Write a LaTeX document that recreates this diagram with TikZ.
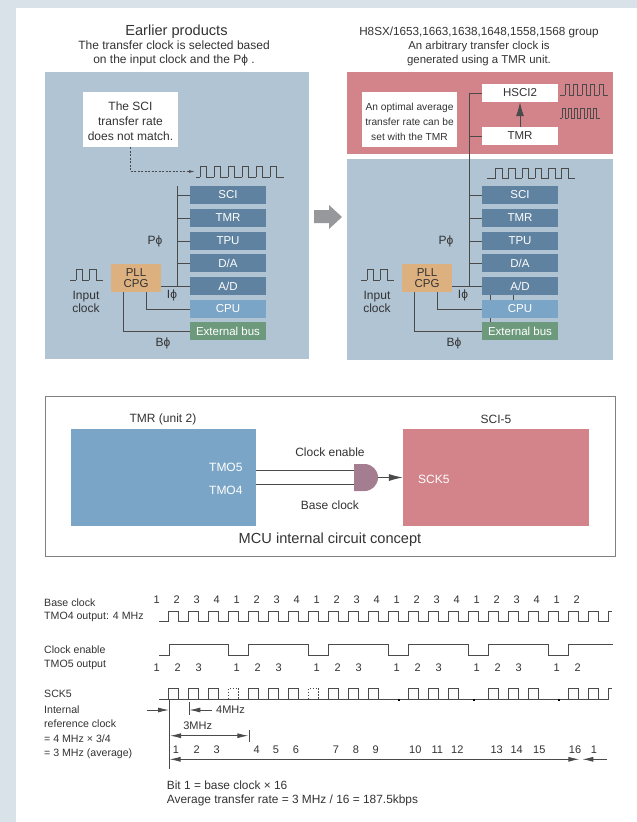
\documentclass[tikz,border=0pt]{standalone}
\usepackage{fontspec}
\setmainfont{Liberation Sans}
\usetikzlibrary{arrows.meta}
\definecolor{stripC}{HTML}{DAE2E9}
\definecolor{panelC}{HTML}{B0C4D4}
\definecolor{redC}{HTML}{D3848A}
\definecolor{periC}{HTML}{5E82A0}
\definecolor{cpuC}{HTML}{7AA5C6}
\definecolor{extC}{HTML}{6D9A7C}
\definecolor{pllC}{HTML}{DDB07F}
\definecolor{gateC}{HTML}{A47D90}
\definecolor{arrowC}{HTML}{96989C}
\definecolor{inkC}{HTML}{333333}
\definecolor{lineC}{HTML}{4A4A4A}
\definecolor{frameC}{HTML}{808080}
\tikzset{
  lab/.style={inner sep=0pt,text=inkC,font=\fontsize{12}{13.5}\selectfont,align=center},
  title/.style={lab,font=\fontsize{14.6}{16}\selectfont},
  subtitle/.style={lab,font=\fontsize{12}{13.5}\selectfont},
  num/.style={lab,font=\fontsize{11}{12}\selectfont},
  rowlab/.style={lab,anchor=west,font=\fontsize{10.6}{12}\selectfont},
  unit/.style={inner sep=0pt,minimum width=76pt,minimum height=18pt,text=white,font=\fontsize{11.5}{12}\selectfont},
  peri/.style={unit,fill=periC},
  whitebox/.style={unit,fill=white,text=inkC},
  note/.style={inner sep=0pt,fill=white,text=inkC,align=center,minimum height=55pt,minimum width=95pt,font=\fontsize{12}{15}\selectfont},
  bus/.style={draw=lineC,line width=0.9pt},
  wave/.style={draw=lineC,line width=1pt},
  head/.style={-{Latex[length=11pt,width=5pt]}},
  dhead/.style={{Latex[length=11pt,width=5pt]}-{Latex[length=11pt,width=5pt]}},
}
% start x, first rise, period, pulse width, pulses, low y, high y
\newcommand{\pulsetrain}[7]{
  \draw[wave] (#1,#6) -- (#2,#6);
  \foreach \k in {1,...,#5} {
    \pgfmathsetmacro\xa{#2+(\k-1)*#3}
    \pgfmathsetmacro\xb{\xa+#4}
    \pgfmathsetmacro\xc{\xa+#3}
    \draw[wave] (\xa,#6) -- (\xa,#7) -- (\xb,#7) -- (\xb,#6) -- (\xc,#6);
  }
}
\begin{document}
\begin{tikzpicture}[x=1pt,y=-1pt]
\useasboundingbox (0,0) rectangle (637,822);
\fill[stripC] (0,0) rectangle (637,822);
\fill[white] (16,8) rectangle (637,822);

% top panels
\node[title] (earlier) at (176.5,32) {Earlier products};
\node[subtitle] (earliersub) at (174,53.5) {The transfer clock is selected based\\on the input clock and the Pϕ .};
\node[title,font=\fontsize{11.7}{14}\selectfont] (group) at (479,32) {H8SX/1653,1663,1638,1648,1558,1568 group};
\node[subtitle,font=\fontsize{11.4}{13.5}\selectfont] (groupsub) at (479,53.5) {An arbitrary transfer clock is\\generated using a TMR unit.};
\fill[panelC] (45,72) rectangle (309,359);
\fill[redC] (347,72) rectangle (613,154);
\fill[panelC] (347,159) rectangle (613,360);
\fill[arrowC] (314,210) -- (329,210) -- (329,205) -- (342,217) -- (329,229) -- (329,223) -- (314,223) -- cycle;

\foreach \p/\dx/\bx in {L/0/0,R/291/292} {
  \foreach \name/\txt/\yy in {sci/SCI/195,tmr/TMR/218,tpu/TPU/241,da/{D/A}/263,ad/{A/D}/286} {
    \node[peri] (\name\p) at (228+\bx,\yy) {\txt};
  }
  \node[unit,fill=cpuC] (cpu\p) at (228+\bx,309) {CPU};
  \node[unit,fill=extC,font=\fontsize{11.5}{12}\selectfont] (ext\p) at (228+\bx,331) {External bus};
  \node[inner sep=0pt,minimum width=50pt,minimum height=28pt,fill=pllC,text=inkC,align=center,font=\fontsize{11.5}{11.5}\selectfont] (pll\p) at (136+\dx,278) {PLL\\CPG};
  \node[lab] (pphi\p) at (155+\dx,241) {Pϕ};
  \node[lab] (iphi\p) at (172+\dx,295) {Iϕ};
  \node[lab] (bphi\p) at (163+\dx,343) {Bϕ};
  \node[lab] (input\p) at (86+\dx,302) {Input\\clock};
  \draw[bus] (pll\p.east |- ad\p.west) -- (ad\p.west);
  \draw[bus] ([xshift=-15pt]pll\p.south east) |- (cpu\p.west);
  \draw[bus] ([xshift=12.5pt]pll\p.south west) |- (ext\p.west);
  \pulsetrain{70+\dx}{76+\dx}{13.3}{6.7}{2}{280}{269.5}
}

% left bus
\coordinate (busLtop) at (177.5,186);
\draw[bus] (busLtop) -- (busLtop |- adL.west);
\foreach \name in {sciL,tmrL,tpuL,daL} {
  \draw[bus] (busLtop |- \name.west) -- (\name.west);
}
\node[note] (mismatch) at (130.5,119.5) {\rule{0pt}{13pt}The SCI\\transfer rate\\does not match.};
\coordinate (waveL) at (195,171.5);
\draw[bus,dash pattern=on 2pt off 1.5pt,-{Latex[length=6pt,width=3pt]}] (mismatch.south) |- (waveL);
\pulsetrain{196}{200}{14}{6.7}{6}{177}{166.5}

% right bus
\node[whitebox] (hsci) at (520,93) {HSCI2};
\node[whitebox] (tmrtop) at (520,136) {TMR};
\coordinate (busRtop) at (469,92.5);
\draw[bus] (busRtop) -- (busRtop |- adR.west) -- (adR.west);
\foreach \name in {hsci,tmrtop,sciR,tmrR,tpuR,daR} {
  \draw[bus] (busRtop |- \name.west) -- (\name.west);
}
\draw[bus,-{Latex[length=14pt,width=8pt]}] (tmrtop.north) -- (hsci.south);
\node[note,font=\fontsize{10.2}{15}\selectfont] (optimal) at (409.5,119.5) {\rule{0pt}{13pt}An optimal average\\transfer rate can be\\set with the TMR};
\draw[bus] ([xshift=-29.5pt]adR.south) -- ([xshift=-29.5pt]cpuR.north);
\draw[bus] ([xshift=-6.5pt]adR.south) -- ([xshift=-6.5pt]cpuR.north);
\draw[bus] ([xshift=-29.5pt]cpuR.south) -- ([xshift=-29.5pt]extR.north);
\pulsetrain{560}{565}{8.5}{4.2}{5}{95}{84.5}
\pulsetrain{560}{562}{6.3}{3.2}{6}{118}{108}
\pulsetrain{487}{495.7}{13.2}{6.5}{6}{178}{168}

% circuit concept
\draw[frameC,line width=1pt] (45.7,396.7) rectangle (615,556);
\node[inner sep=0pt,minimum width=185pt,minimum height=97pt,fill=cpuC] (tmrunit) at (163.5,477.5) {};
\node[inner sep=0pt,minimum width=185.5pt,minimum height=97pt,fill=redC] (sciunit) at (495.8,477.5) {};
\node[lab] (tmrtitle) at (163,419) {TMR (unit 2)};
\node[lab] (scititle) at (496,419) {SCI-5};
\node[lab,text=white,anchor=east] (tmofive) at (242.7,467.7) {TMO5};
\node[lab,text=white,anchor=east] (tmofour) at (242.7,490) {TMO4};
\node[lab,text=white,anchor=west] (sckfive) at (418,479) {SCK5};
\node[lab] (enable) at (330,452) {Clock enable};
\node[lab] (base) at (330,505) {Base clock};
\node[title] (concept) at (330,540) {MCU internal circuit concept};
\fill[gateC] (354,464) -- (364.5,464) arc[start angle=90,end angle=-90,radius=13.5pt] -- (354,491) -- cycle;
\coordinate (gatein) at (354,477.5);
\coordinate (gateout) at (378,477.5);
\draw[bus] (tmrunit.east |- 0,470.7) -- (gatein |- 0,470.7);
\draw[bus] (tmrunit.east |- 0,484) -- (gatein |- 0,484);
\draw[bus,-{Latex[length=14pt,width=7pt]}] (gateout) -- (sciunit.west);

% timing rows
\node[rowlab] (r1) at (44,602.3) {Base clock};
\node[rowlab] (r2) at (44,617.3) {TMO4 output: 4 MHz};
\node[rowlab] (r3) at (44,650) {Clock enable};
\node[rowlab] (r4) at (44,665) {TMO5 output};
\node[rowlab] (r5) at (44,694.3) {SCK5};
\node[rowlab] (r6) at (44,709.3) {Internal};
\node[rowlab] (r7) at (44,724) {reference clock};
\node[rowlab] (r8) at (44,739) {= 4 MHz × 3/4};
\node[rowlab] (r9) at (44,753.7) {= 3 MHz (average)};

\foreach \k [evaluate=\k as \n using {int(mod(\k,4)+1)}] in {0,...,21} {
  \node[num] (base\k) at (156.7+20*\k,599.3) {\n};
}
\pulsetrain{159}{168.5}{20}{10}{22}{621.7}{611}
\draw[wave] (608.5,621.7) -- (608.5,611) -- (611.5,611);

\draw[wave] (159,655.3) -- (169,655.3) -- (169,644.3) -- (228.5,644.3);
\foreach \k in {0,1,2,3} {
  \draw[wave] (228.5+80*\k,644.3) -- (228.5+80*\k,655.3) -- (248.5+80*\k,655.3) -- (248.5+80*\k,644.3) -- (308.5+80*\k,644.3);
}
\draw[wave] (548.5,644.3) -- (548.5,655.3) -- (568.5,655.3) -- (568.5,644.3) -- (612.5,644.3);
\foreach \k in {0,...,5} {
  \node[num] (ena\k a) at (156.7+80*\k,667.3) {1};
  \node[num] (ena\k b) at (177.7+80*\k,667.3) {2};
  \ifnum\k<5 \node[num] (ena\k c) at (198.7+80*\k,667.3) {3}; \fi
}

\draw[wave] (159,699.3) -- (608.5,699.3);
\foreach \k in {0,1,2,4,5,6,8,9,10,12,13,14,16,17,18,20,21} {
  \draw[wave] (168.5+20*\k,699.3) -- (168.5+20*\k,688.3) -- (178.5+20*\k,688.3) -- (178.5+20*\k,699.3);
}
\draw[wave] (608.5,699.3) -- (608.5,688.3) -- (611.5,688.3);
\foreach \k in {3,7} {
  \draw[wave,dash pattern=on 1.5pt off 1.5pt] (168.5+20*\k,699.3) -- (168.5+20*\k,688.3) -- (178.5+20*\k,688.3) -- (178.5+20*\k,699.3);
}
\foreach \xx in {399,473.5,559} {
  \fill[black] (\xx-1,698.7) rectangle (\xx+1,700.5);
}

% rate marks
\coordinate (leftmark) at (169,700);
\coordinate (leftmarkend) at (169,769.3);
\draw[bus] (leftmark) -- (leftmarkend);
\coordinate (entry) at (146.7,710);
\draw[bus,head] (entry) -- (entry -| leftmark);
\coordinate (fourtick) at (189.3,702);
\coordinate (fourtickend) at (189.3,715);
\draw[bus] (fourtick) -- (fourtickend);
\node[num,anchor=west] (fourmhz) at (216,710) {4MHz};
\coordinate (fourstart) at (212,710);
\draw[bus,head] (fourstart) -- (fourstart -| fourtick);
\node[num] (threemhz) at (197.7,726) {3MHz};
\coordinate (threetick) at (249,730);
\coordinate (threetickend) at (249,741.7);
\draw[bus] (threetick) -- (threetickend);
\draw[bus,dhead] (170,735.7) -- (248.3,735.7);
\foreach \n/\xx in {1/176,2/196.7,3/216.7,4/256.7,5/276,6/296,7/336,8/356,9/375.7,10/415.3,11/437.3,12/457.3,13/496.7,14/516.7,15/539.3,16/575,1/594} {
  \node[num] at (\xx,749.3) {\n};
}
\draw[bus,dhead] (169.5,759.3) -- (579.3,759.3);
\draw[bus,{Latex[length=11pt,width=5pt]}-] (582.3,759.3) -- (607.3,759.3);
\node[rowlab,font=\fontsize{11.9}{12}\selectfont] (bitone) at (166.7,785) {Bit 1 = base clock × 16};
\node[rowlab,font=\fontsize{11.9}{12}\selectfont] (average) at (166.7,800) {Average transfer rate = 3 MHz / 16 = 187.5kbps};
\end{tikzpicture}
\end{document}
